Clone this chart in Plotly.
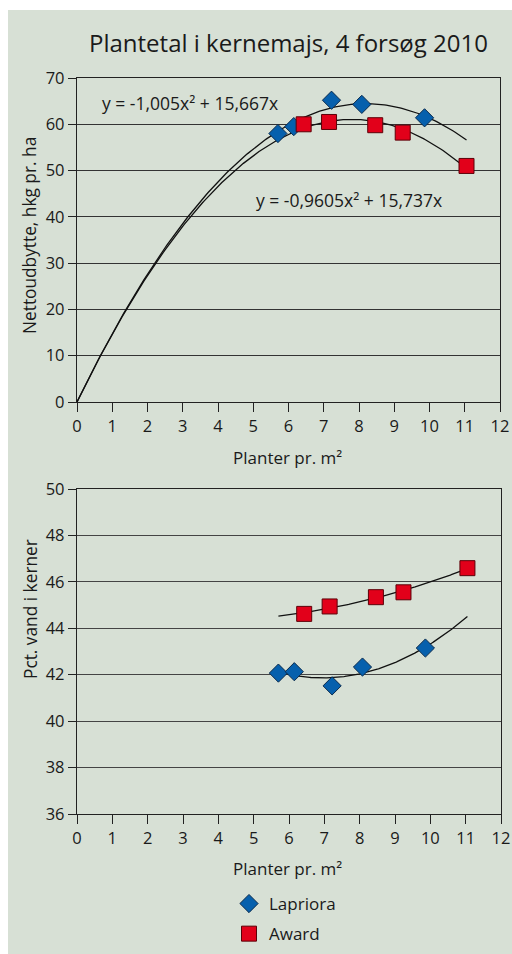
import numpy as np
import plotly.graph_objects as go

W, H = 512, 954

# --- data ---------------------------------------------------------------
lapriora_x = [5.70, 6.15, 7.22, 8.08, 9.86]
award_x = [6.43, 7.15, 8.46, 9.24, 11.05]

lapriora_yield = [58.0, 59.5, 65.2, 64.3, 61.4]
award_yield = [60.0, 60.5, 59.8, 58.2, 51.0]

lapriora_water = [42.07, 42.13, 41.52, 42.33, 43.15]
award_water = [44.62, 44.94, 45.34, 45.55, 46.59]

# yield trendlines (zero intercept): y = a*x^2 + b*x
lapriora_coef = (-0.9605, 15.737)
award_coef = (-1.005, 15.667)
eq_upper_text = "y = -1,005x² + 15,667x"
eq_lower_text = "y = -0,9605x² + 15,737x"

x_ticks = list(range(0, 13))
yield_ticks = list(range(0, 71, 10))
water_ticks = list(range(36, 51, 2))

# --- styling ------------------------------------------------------------
FONT = "Open Sans"
TXT = "#1a1a1a"
PANEL = "#d7e0d5"
BLUE = "#0660ad"
BLUE_EDGE = "#0b2b4d"
RED = "#e2001a"
RED_EDGE = "#5c0008"


def px_x(p):
    return p / W


def px_y(p):
    return 1 - p / H


fig = go.Figure()

# trendlines, top chart
xt = np.linspace(0, 11.05, 200)
for a, b in (lapriora_coef, award_coef):
    fig.add_trace(go.Scatter(x=xt, y=a * xt ** 2 + b * xt, mode="lines",
                             line=dict(color="#111", width=1.3),
                             showlegend=False, hoverinfo="skip",
                             xaxis="x", yaxis="y"))

# trendlines, bottom chart (2nd order polynomial fits)
xb = np.linspace(5.7, 11.05, 200)
for xs, ys in ((lapriora_x, lapriora_water), (award_x, award_water)):
    c = np.polyfit(xs, ys, 2)
    fig.add_trace(go.Scatter(x=xb, y=np.polyval(c, xb), mode="lines",
                             line=dict(color="#111", width=1.3),
                             showlegend=False, hoverinfo="skip",
                             xaxis="x2", yaxis="y2"))

lap_marker = dict(symbol="diamond", size=14, color=BLUE,
                  line=dict(color=BLUE_EDGE, width=1))
awd_marker = dict(symbol="square", size=15, color=RED,
                  line=dict(color=RED_EDGE, width=1))

fig.add_trace(go.Scatter(x=lapriora_x, y=lapriora_yield, mode="markers",
                         marker=lap_marker, name="Lapriora",
                         legendgroup="lap", showlegend=False,
                         xaxis="x", yaxis="y"))
fig.add_trace(go.Scatter(x=award_x, y=award_yield, mode="markers",
                         marker=awd_marker, name="Award",
                         legendgroup="awd", showlegend=False,
                         xaxis="x", yaxis="y"))
fig.add_trace(go.Scatter(x=lapriora_x, y=lapriora_water, mode="markers",
                         marker=lap_marker, name="Lapriora",
                         legendgroup="lap", xaxis="x2", yaxis="y2"))
fig.add_trace(go.Scatter(x=award_x, y=award_water, mode="markers",
                         marker=awd_marker, name="Award",
                         legendgroup="awd", xaxis="x2", yaxis="y2"))

axis_common = dict(showline=True, linecolor="#222", linewidth=1.3,
                   mirror=True, ticks="outside", tickcolor="#222",
                   tickwidth=1.3, zeroline=False, automargin=False,
                   tickfont=dict(family=FONT, size=16.5, color=TXT))

fig.update_layout(
    width=W, height=H,
    margin=dict(l=0, r=0, t=0, b=0, autoexpand=False),
    paper_bgcolor="white",
    plot_bgcolor=PANEL,
    font=dict(family=FONT, color=TXT),
    showlegend=True,
    legend=dict(x=px_x(229), xanchor="left", y=px_y(886), yanchor="top",
                bgcolor="rgba(0,0,0,0)", font=dict(family=FONT, size=17, color=TXT),
                traceorder="grouped", tracegroupgap=5),
    xaxis=dict(domain=[px_x(77), px_x(500)], range=[0, 12], tickvals=x_ticks,
               anchor="y", showgrid=False, ticklen=9, **axis_common),
    yaxis=dict(domain=[px_y(402), px_y(78)], range=[0, 70], tickvals=yield_ticks,
               anchor="x", showgrid=True, gridcolor="#333", gridwidth=1.2,
               ticklen=8, **axis_common),
    xaxis2=dict(domain=[px_x(77), px_x(501)], range=[0, 12], tickvals=x_ticks,
                anchor="y2", showgrid=False, ticklen=9, **axis_common),
    yaxis2=dict(domain=[px_y(814), px_y(489)], range=[36, 50], tickvals=water_ticks,
                anchor="x2", showgrid=True, gridcolor="#444", gridwidth=1.2,
                ticklen=8, **axis_common),
)

# background panel behind everything
fig.add_shape(type="rect", xref="paper", yref="paper",
              x0=px_x(8), x1=1, y0=0, y1=px_y(10),
              fillcolor=PANEL, line=dict(width=0), layer="below")

ann = [
    dict(text="Plantetal i kernemajs, 4 forsøg 2010", x=px_x(288), y=px_y(43),
         font=dict(size=24)),
    dict(text="Nettoudbytte, hkg pr. ha", x=px_x(30), y=px_y(236),
         textangle=-90, font=dict(size=17.3)),
    dict(text="Planter pr. m²", x=px_x(287), y=px_y(457), font=dict(size=17)),
    dict(text="Pct. vand i kerner", x=px_x(30), y=px_y(609),
         textangle=-90, font=dict(size=17.3)),
    dict(text="Planter pr. m²", x=px_x(287), y=px_y(868), font=dict(size=17)),
    dict(text=eq_upper_text, x=px_x(100), y=px_y(103), xanchor="left",
         font=dict(size=17.5)),
    dict(text=eq_lower_text, x=px_x(254), y=px_y(200), xanchor="left",
         font=dict(size=17.5)),
]
for a in ann:
    a.setdefault("xanchor", "center")
    a.update(xref="paper", yref="paper", yanchor="middle", showarrow=False)
    a["font"] = dict(family=FONT, color=TXT, **a["font"])
    fig.add_annotation(**a)

fig.write_html("out.html")
